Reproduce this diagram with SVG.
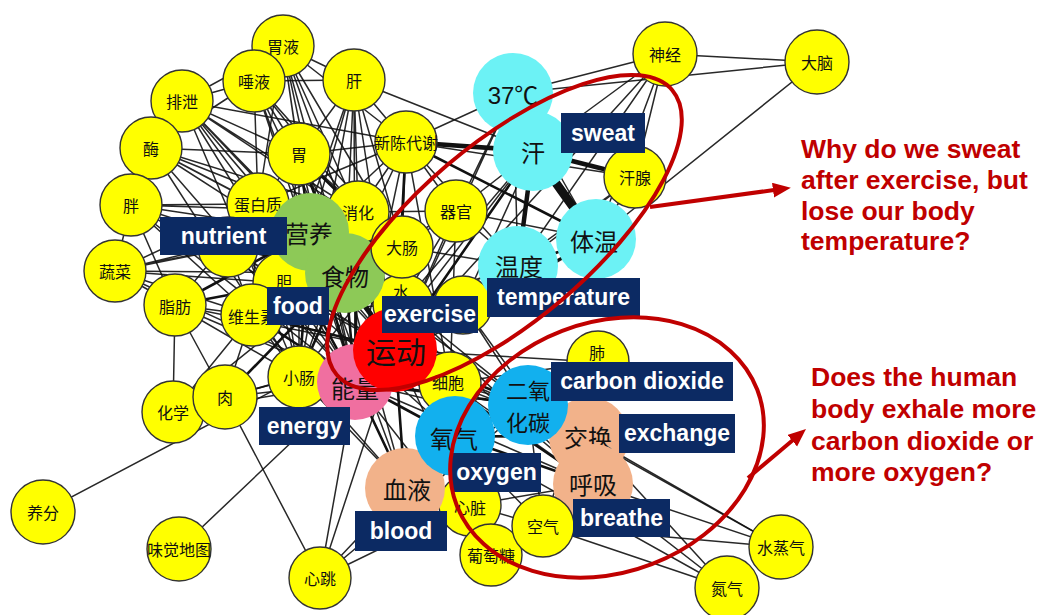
<svg xmlns="http://www.w3.org/2000/svg" width="1041" height="615" viewBox="0 0 1041 615">
<style>
.e path{fill:none;stroke:#111;stroke-linecap:round}
.t{stroke-width:1.5;stroke-opacity:.9}
.m{stroke-width:2.6}
.k{stroke-width:4.5}
.v{stroke-width:9}
.y circle{fill:#ffff00;stroke:#333;stroke-width:1.4}
.y text{font-family:"Noto Sans CJK SC",sans-serif;font-size:16px;fill:#111;text-anchor:middle;dominant-baseline:central}
.c text{font-family:"Noto Sans CJK SC",sans-serif;font-size:24px;fill:#111;text-anchor:middle;dominant-baseline:central}
.cy{fill:#6cf2f5}.gr{fill:#8dc957}.pk{fill:#f06fa0}.rd{fill:#ff0000}.bl{fill:#12b0ee}.pc{fill:#f2b28a}
.lb rect{fill:#0c2a63}
.lb text{font-family:"Liberation Sans",Arial,sans-serif;font-weight:bold;font-size:23px;fill:#fff;text-anchor:middle}
.q{font-family:"Liberation Sans",Arial,sans-serif;font-weight:bold;font-size:26.5px;fill:#c00000}
.r{fill:none;stroke:#c00000;stroke-width:4}
</style>
<defs>
<marker id="ah" markerUnits="userSpaceOnUse" markerWidth="20" markerHeight="16" refX="1" refY="7.5" orient="auto"><path d="M0,0L18,7.5L0,15z" fill="#c00000"/></marker>
</defs>
<rect width="1041" height="615" fill="#fff"/>
<g id="connectors" class="e">
<path class="t" d="M283 46L254 81M283 46L182 101M283 46L299 154M283 46L358 212M283 46L345 273M283 46L310 232M283 46L406 142M283 46L354 80M283 46L258 204M283 46L395 350M283 46L355 382M283 46L402 247"/>
<path class="t" d="M254 81L182 101M254 81L299 154M254 81L358 212M254 81L345 273M254 81L310 232M254 81L151 148M254 81L258 204M254 81L354 80M254 81L402 247M254 81L355 382"/>
<path class="t" d="M182 101L151 148M182 101L299 154M182 101L358 212M182 101L345 273M182 101L310 232M182 101L258 204M182 101L402 247M182 101L299 377M182 101L355 382M182 101L395 350M182 101L406 142"/>
<path class="t" d="M151 148L299 154M151 148L358 212M151 148L258 204M151 148L310 232M151 148L345 273M151 148L299 377M151 148L355 382M151 148L131 205M151 148L402 247"/>
<path class="t" d="M131 205L310 232M131 205L345 273M131 205L355 382M131 205L395 350M131 205L258 204M131 205L175 305M131 205L115 271M131 205L358 212M131 205L252 315"/>
<path class="t" d="M115 271L310 232M115 271L345 273M115 271L252 315M115 271L175 305M115 271L258 204M115 271L355 382M115 271L358 212M115 271L228 247M115 271L284 283"/>
<path class="t" d="M258 204L299 154M258 204L252 315M258 204L175 305M258 204L284 283M258 204L299 377M258 204L395 350M258 204L406 142"/>
<path class="t" d="M299 154L402 247M299 154L299 377M299 154L354 80M299 154L406 142M299 154L355 382M299 154L395 350M299 154L284 283"/>
<path class="t" d="M354 80L358 212M354 80L284 283M354 80L406 142M354 80L345 273M354 80L402 247M354 80L299 377M354 80L310 232M354 80L355 382M354 80L395 350M354 80L533 151"/>
<path class="t" d="M406 142L513 93M406 142L518 266M406 142L355 382M406 142L358 212M406 142L345 273M406 142L310 232M406 142L456 211M406 142L402 247M406 142L450 383M406 142L635 177"/>
<path class="t" d="M358 212L402 247M358 212L299 377M358 212L456 211M358 212L284 283"/>
<path class="t" d="M456 211L395 350M456 211L355 382M456 211L450 383M456 211L533 151M456 211L518 266M456 211L596 239M456 211L402 247M456 211L345 273"/>
<path class="t" d="M402 247L299 377M402 247L355 382M402 247L403 304M402 247L518 266"/>
<path class="t" d="M228 247L355 382M228 247L395 350M228 247L252 315M228 247L284 283M284 283L299 377M284 283L355 382M284 283L395 350"/>
<path class="t" d="M175 305L252 315M175 305L355 382M175 305L225 397M175 305L299 377M175 305L173 412M175 305L395 350"/>
<path class="t" d="M252 315L225 397M252 315L299 377M252 315L173 412M252 315L403 304M299 377L405 488M299 377L450 383M299 377L225 397"/>
<path class="t" d="M225 397L173 412M225 397L320 578M225 397L355 382M225 397L395 350M173 412L355 382M173 412L395 350M173 412L345 273"/>
<path class="t" d="M43 512L299 377M179 549L355 382M320 578L355 382M320 578L395 350M320 578L405 488M320 578L470 505M320 578L528 405"/>
<path class="t" d="M403 304L533 151M403 304L596 239M403 304L518 266M403 304L593 484M403 304L528 405"/>
<path class="t" d="M463 305L518 266M463 305L533 151M463 305L528 405M463 305L593 484M463 305L355 382"/>
<path class="t" d="M450 383L455 436M450 383L528 405M450 383L405 488M450 383L593 484M450 383L589 437M450 383L345 273M450 383L491 555"/>
<path class="t" d="M513 93L533 151M513 93L596 239M513 93L518 266M513 93L665 54M513 93L395 350M513 93L456 211M817 62L513 93"/>
<path class="t" d="M533 151L355 382M533 151L665 54M596 239L355 382M596 239L635 177M596 239L665 54M596 239L817 62"/>
<path class="t" d="M518 266L355 382M518 266L635 177M518 266L665 54M635 177L665 54M635 177L395 350M665 54L817 62M665 54L395 350"/>
<path class="t" d="M598 362L593 484M598 362L589 437M598 362L528 405M598 362L455 436M598 362L543 526M598 362L395 350M598 362L450 383"/>
<path class="t" d="M528 405L543 526M528 405L405 488M528 405L781 547M455 436L543 526M455 436L470 505M455 436L491 555M455 436L727 588"/>
<path class="t" d="M589 437L543 526M589 437L781 547M589 437L727 588M593 484L543 526M593 484L781 547M593 484L727 588M593 484L470 505"/>
<path class="t" d="M405 488L470 505M405 488L491 555M470 505L491 555M470 505L543 526M543 526L781 547M543 526L727 588M543 526L491 555M491 555L355 382M491 555L395 350M395 350L589 437"/>
<path class="t" d="M345 273L450 383M310 232L450 383M345 273L528 405M345 273L455 436M355 382L593 484M355 382L589 437M345 273L405 488M310 232L405 488M284 283L455 436M299 377L528 405M252 315L405 488M345 273L593 484"/>
<path class="m" d="M395 350L345 273M395 350L310 232M355 382L345 273M355 382L310 232M345 273L310 232M358 212L345 273M358 212L310 232M358 212L355 382M358 212L395 350M402 247L345 273M402 247L310 232M402 247L395 350"/>
<path class="m" d="M299 154L358 212M299 154L345 273M299 154L310 232M258 204L310 232M258 204L345 273M258 204L355 382M228 247L310 232M228 247L345 273M284 283L345 273M284 283L310 232M175 305L345 273M175 305L310 232"/>
<path class="m" d="M252 315L345 273M252 315L355 382M252 315L310 232M252 315L395 350M299 377L345 273M299 377L355 382M299 377L395 350M299 377L310 232M225 397L345 273M450 383L395 350M450 383L355 382"/>
<path class="m" d="M395 350L405 488M395 350L455 436M395 350L528 405M395 350L593 484M355 382L405 488M355 382L455 436M355 382L528 405M528 405L455 436M528 405L589 437M528 405L593 484M455 436L589 437M455 436L593 484M455 436L405 488M589 437L593 484"/>
<path class="m" d="M403 304L395 350M403 304L355 382M403 304L345 273M463 305L395 350M596 239L518 266M596 239L395 350M533 151L395 350M406 142L395 350M406 142L596 239M450 383L403 304"/>
<path class="k" d="M395 350L355 382M518 266L395 350M533 151L406 142M533 151L635 177M533 151L518 266"/>
<path class="v" d="M533 151L596 239"/>
</g>
<g id="n-wy" class="y"><circle cx="283" cy="46" r="31"/><text x="283" y="46">胃液</text></g>
<g id="n-ty" class="y"><circle cx="254" cy="81" r="31"/><text x="254" y="81">唾液</text></g>
<g id="n-px" class="y"><circle cx="182" cy="101" r="31"/><text x="182" y="101">排泄</text></g>
<g id="n-mei" class="y"><circle cx="151" cy="148" r="31"/><text x="151" y="148">酶</text></g>
<g id="n-pang" class="y"><circle cx="131" cy="205" r="31"/><text x="131" y="205">胖</text></g>
<g id="n-sc" class="y"><circle cx="115" cy="271" r="31"/><text x="115" y="271">蔬菜</text></g>
<g id="n-wei" class="y"><circle cx="299" cy="154" r="31"/><text x="299" y="154">胃</text></g>
<g id="n-gan" class="y"><circle cx="354" cy="80" r="31"/><text x="354" y="80">肝</text></g>
<g id="n-xcdx" class="y"><circle cx="406" cy="142" r="31"/><text x="406" y="142">新陈代谢</text></g>
<g id="n-dbz" class="y"><circle cx="258" cy="204" r="31"/><text x="258" y="204">蛋白质</text></g>
<g id="n-xh" class="y"><circle cx="358" cy="212" r="31"/><text x="358" y="212">消化</text></g>
<g id="n-qg" class="y"><circle cx="456" cy="211" r="31"/><text x="456" y="211">器官</text></g>
<g id="n-hx" class="y"><circle cx="635" cy="177" r="31"/><text x="635" y="177">汗腺</text></g>
<g id="n-sj" class="y"><circle cx="665" cy="54" r="32"/><text x="665" y="54">神经</text></g>
<g id="n-dn" class="y"><circle cx="817" cy="62" r="32"/><text x="817" y="62">大脑</text></g>
<g id="n-h1" class="y"><circle cx="228" cy="247" r="30"/></g>
<g id="n-dan" class="y"><circle cx="284" cy="283" r="31"/><text x="284" y="281">胆</text></g>
<g id="n-zf" class="y"><circle cx="175" cy="305" r="31"/><text x="175" y="306">脂肪</text></g>
<g id="n-wss" class="y"><circle cx="252" cy="315" r="31"/><text x="252" y="316">维生素</text></g>
<g id="n-xc" class="y"><circle cx="299" cy="377" r="31"/><text x="299" y="377">小肠</text></g>
<g id="n-hxue" class="y"><circle cx="173" cy="412" r="31"/><text x="173" y="412">化学</text></g>
<g id="n-rou" class="y"><circle cx="225" cy="397" r="32"/><text x="225" y="397">肉</text></g>
<g id="n-yf" class="y"><circle cx="43" cy="512" r="32"/><text x="43" y="512">养分</text></g>
<g id="n-wjdt" class="y"><circle cx="179" cy="549" r="32"/><text x="179" y="549">味觉地图</text></g>
<g id="n-xt" class="y"><circle cx="320" cy="578" r="31"/><text x="320" y="578">心跳</text></g>
<g id="n-shui" class="y"><circle cx="403" cy="304" r="30"/><text x="401" y="291">水</text></g>
<g id="n-h2" class="y"><circle cx="463" cy="305" r="29"/></g>
<g id="n-xb" class="y"><circle cx="450" cy="383" r="31"/><text x="448" y="382">细胞</text></g>
<g id="n-fei" class="y"><circle cx="598" cy="362" r="31"/><text x="597" y="352">肺</text></g>
<g id="n-xz" class="y"><circle cx="470" cy="505" r="31"/><text x="470" y="507">心脏</text></g>
<g id="n-ptt" class="y"><circle cx="491" cy="555" r="31"/><text x="491" y="555">葡萄糖</text></g>
<g id="n-szq" class="y"><circle cx="781" cy="547" r="32"/><text x="781" y="547">水蒸气</text></g>
<g id="n-dq" class="y"><circle cx="727" cy="588" r="32"/><text x="727" y="588">氮气</text></g>
<g id="n-c37" class="c"><circle class="cy" cx="513" cy="93" r="40"/><text x="513" y="95" style="font-family:'Liberation Sans','Noto Sans CJK SC',sans-serif">37℃</text></g>
<g id="n-han" class="c"><circle class="cy" cx="533" cy="151" r="40"/><text x="533" y="151">汗</text></g>
<g id="n-tw" class="c"><circle class="cy" cx="596" cy="239" r="40"/><text x="594" y="240">体温</text></g>
<g id="n-wd" class="c"><circle class="cy" cx="518" cy="266" r="40"/><text x="519" y="265">温度</text></g>
<g id="n-yy" class="c"><circle class="gr" cx="310" cy="232" r="39"/><text x="309" y="232">营养</text></g>
<g id="n-sw" class="c"><circle class="gr" cx="345" cy="273" r="40"/><text x="345" y="275">食物</text></g>
<g id="n-nl" class="c"><circle class="pk" cx="355" cy="382" r="38"/><text x="355" y="387">能量</text></g>
<g id="n-yd" class="c"><circle class="rd" cx="395" cy="350" r="42"/><text x="396" y="350" style="font-size:30px">运动</text></g>
<g id="n-xy" class="c"><circle class="pc" cx="405" cy="488" r="40"/><text x="407" y="488">血液</text></g>
<g id="n-jh" class="c"><circle class="pc" cx="589" cy="437" r="40"/><text x="588" y="436">交换</text></g>
<g id="n-hxi" class="c"><circle class="pc" cx="593" cy="484" r="40"/><text x="593" y="483">呼吸</text></g>
<g id="n-yq" class="c"><circle class="bl" cx="455" cy="436" r="40"/><text x="454" y="437">氧气</text></g>
<g id="n-eyht" class="c"><circle class="bl" cx="528" cy="405" r="40"/><text x="528" y="389" style="font-size:22px">二氧<tspan x="528" y="421">化碳</tspan></text></g>
<g id="n-dc" class="y"><circle cx="402" cy="247" r="31"/><text x="402" y="247">大肠</text></g>
<g id="n-kq" class="y"><circle cx="543" cy="526" r="31"/><text x="543" y="526">空气</text></g>
<g id="lbl-nutrient" class="lb"><rect x="160" y="217" width="127" height="38"/><text x="223.5" y="244">nutrient</text></g>
<g id="lbl-food" class="lb"><rect x="267" y="287" width="62" height="38"/><text x="298" y="314">food</text></g>
<g id="lbl-exercise" class="lb"><rect x="382" y="296" width="96" height="37"/><text x="430" y="322">exercise</text></g>
<g id="lbl-temperature" class="lb"><rect x="487" y="278" width="153" height="39"/><text x="563.5" y="305">temperature</text></g>
<g id="lbl-sweat" class="lb"><rect x="561" y="113" width="84" height="40"/><text x="603" y="141">sweat</text></g>
<g id="lbl-energy" class="lb"><rect x="259" y="407" width="91" height="38"/><text x="304.5" y="434">energy</text></g>
<g id="lbl-co2" class="lb"><rect x="551" y="362" width="182" height="39"/><text x="642" y="389">carbon dioxide</text></g>
<g id="lbl-exchange" class="lb"><rect x="619" y="414" width="116" height="39"/><text x="677" y="441">exchange</text></g>
<g id="lbl-oxygen" class="lb"><rect x="452" y="453" width="89" height="39"/><text x="496.5" y="480">oxygen</text></g>
<g id="lbl-blood" class="lb"><rect x="355" y="511" width="92" height="40"/><text x="401" y="539">blood</text></g>
<g id="lbl-breathe" class="lb"><rect x="573" y="499" width="97" height="38"/><text x="621.5" y="526">breathe</text></g>
<g id="highlights">
<ellipse class="r" cx="504.5" cy="232.5" rx="220" ry="88.5" transform="rotate(-40.3 504.5 232.5)"/>
<ellipse class="r" cx="607" cy="447.5" rx="161" ry="125" transform="rotate(-21 607 447.5)"/>
<line class="r" x1="650" y1="207" x2="774" y2="190" marker-end="url(#ah)"/>
<line class="r" x1="748" y1="478" x2="793" y2="440" marker-end="url(#ah)"/>
</g>
<g id="questions">
<text class="q" x="801" y="158">Why do we sweat</text>
<text class="q" x="801" y="189">after exercise, but</text>
<text class="q" x="801" y="220">lose our body</text>
<text class="q" x="801" y="250">temperature?</text>
<text class="q" x="811" y="386">Does the human</text>
<text class="q" x="811" y="418">body exhale more</text>
<text class="q" x="811" y="450">carbon dioxide or</text>
<text class="q" x="811" y="481">more oxygen?</text>
</g>
</svg>
